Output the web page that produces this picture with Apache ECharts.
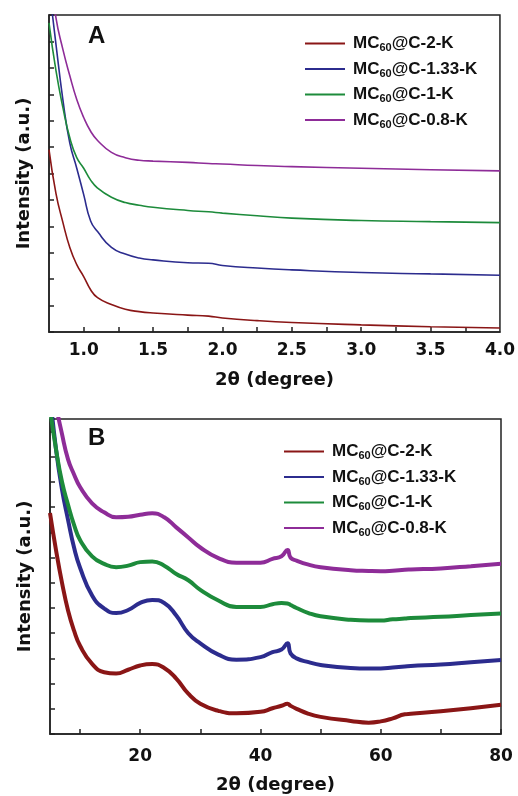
<!DOCTYPE html>
<html>
<head>
<meta charset="utf-8">
<script src="https://cdn.jsdelivr.net/npm/echarts@6/dist/echarts.min.js"></script>
<style>
  html, body { margin: 0; padding: 0; background: #fff; }
  #main { width: 518px; height: 796px; }
</style>
</head>
<body>
<div id="main"></div>
<script>
// series names and colours
var names = ['MC60@C-2-K', 'MC60@C-1.33-K', 'MC60@C-1-K', 'MC60@C-0.8-K'];
var colors = ['#8a1616', '#2c2c8e', '#1d8b3b', '#8e2c98'];

// panel A: low-angle XRD, 2theta 0.75 - 4.0
var xA = [0.75, 0.8, 0.85, 0.9, 0.95, 1.0, 1.05, 1.1, 1.2, 1.3, 1.4, 1.5, 1.75, 1.9, 2.0, 2.25, 2.5, 3.0, 3.5, 4.0];
var redA    = [6.9, 5.25, 4.15, 3.2, 2.55, 2.1, 1.6, 1.3, 1.04, 0.86, 0.77, 0.72, 0.64, 0.6, 0.53, 0.43, 0.36, 0.27, 0.2, 0.15];
var blueA   = [13.1, 10.9, 8.8, 7.15, 6.2, 5.2, 4.2, 3.8, 3.2, 2.95, 2.8, 2.73, 2.62, 2.6, 2.52, 2.42, 2.35, 2.25, 2.2, 2.15];
var greenA  = [11.7, 9.9, 8.5, 7.35, 6.6, 6.2, 5.75, 5.45, 5.1, 4.9, 4.8, 4.72, 4.6, 4.55, 4.5, 4.4, 4.31, 4.22, 4.18, 4.14];
var purpleA = [14.0, 11.9, 10.7, 9.7, 8.8, 8.12, 7.6, 7.25, 6.8, 6.6, 6.5, 6.47, 6.42, 6.38, 6.36, 6.3, 6.26, 6.2, 6.14, 6.1];
var ticksA = [1.0, 1.25, 1.5, 1.75, 2.0, 2.25, 2.5, 2.75, 3.0, 3.25, 3.5, 3.75];
var labelsA = [1.0, 1.5, 2.0, 2.5, 3.0, 3.5, 4.0];

// panel B: wide-angle XRD, 2theta 5 - 80
var xB = [5, 6, 7, 8, 9, 10, 12, 14, 16, 18, 20, 22, 24, 26, 28, 30, 33, 36, 40, 42, 43.5, 44.5, 45, 46, 48, 50, 55, 58, 60, 62, 64, 65, 70, 75, 80];
var redB    = [8.77, 7.3, 6.0, 4.9, 4.1, 3.5, 2.78, 2.45, 2.4, 2.55, 2.72, 2.78, 2.62, 2.2, 1.6, 1.2, 0.92, 0.82, 0.88, 1.02, 1.12, 1.2, 1.12, 1.0, 0.8, 0.68, 0.52, 0.45, 0.5, 0.62, 0.78, 0.8, 0.9, 1.02, 1.16];
var blueB   = [13.5, 11.3, 9.7, 8.5, 7.4, 6.6, 5.5, 4.98, 4.8, 4.92, 5.2, 5.32, 5.2, 4.7, 4.0, 3.6, 3.15, 2.95, 3.05, 3.25, 3.35, 3.6, 3.2, 3.0, 2.85, 2.74, 2.62, 2.6, 2.6, 2.64, 2.68, 2.7, 2.76, 2.85, 2.94];
var greenB  = [12.9, 11.3, 10.0, 9.1, 8.3, 7.7, 7.05, 6.75, 6.62, 6.68, 6.82, 6.85, 6.68, 6.35, 6.1, 5.72, 5.3, 5.04, 5.04, 5.15, 5.2, 5.18, 5.12, 5.0, 4.8, 4.67, 4.53, 4.5, 4.5, 4.55, 4.58, 4.6, 4.65, 4.72, 4.78];
var purpleB = [15.0, 13.1, 11.9, 10.9, 10.3, 9.8, 9.15, 8.8, 8.6, 8.62, 8.7, 8.76, 8.6, 8.2, 7.8, 7.4, 6.98, 6.8, 6.8, 6.95, 7.05, 7.3, 7.0, 6.88, 6.72, 6.62, 6.5, 6.47, 6.46, 6.48, 6.52, 6.53, 6.57, 6.66, 6.76];
var ticksB = [10, 20, 30, 40, 50, 60, 70, 80];
var labelsB = [20, 40, 60, 80];

var FONT = 'Liberation Sans, Arial, sans-serif';
var AXFONT = 'DejaVu Sans, sans-serif';

function pairs(xs, ys) {
    return xs.map(function (x, i) { return [x, ys[i]]; });
}

function legendFor(left, top) {
    return {
        orient: 'vertical',
        left: left,
        top: top,
        icon: 'rect',
        itemWidth: 40,
        itemHeight: 2,
        itemGap: 7,
        data: names,
        formatter: function (n) { return n.replace('MC60', 'MC{s|60}'); },
        textStyle: {
            fontFamily: FONT, fontSize: 17, fontWeight: 'bold', color: '#111',
            lineHeight: 17, padding: [0, 0, 0, 3],
            rich: {
                s: { fontFamily: FONT, fontSize: 11, fontWeight: 'bold', color: '#111', padding: [9, 0, 0, 0] }
            }
        }
    };
}

function xAxisFor(idx, min, max, ticks, labels, fmt, margin, gap) {
    return {
        gridIndex: idx, type: 'value', min: min, max: max,
        splitLine: { show: false },
        axisLine: { lineStyle: { color: '#222', width: 1.5 } },
        axisTick: { inside: true, length: 5, customValues: ticks, lineStyle: { color: '#222', width: 1.5 } },
        axisLabel: {
            customValues: labels, formatter: fmt, margin: margin,
            fontFamily: AXFONT, fontSize: 17, fontWeight: 'bold', color: '#111'
        },
        name: '2θ (degree)', nameLocation: 'middle', nameGap: gap,
        nameTextStyle: { fontFamily: AXFONT, fontSize: 18, fontWeight: 'bold', color: '#111' }
    };
}

function yAxisFor(idx, max) {
    return {
        gridIndex: idx, type: 'value', min: 0, max: max, interval: 1,
        splitLine: { show: false },
        axisLine: { lineStyle: { color: '#222', width: 1.5 } },
        axisTick: { inside: true, length: 5, lineStyle: { color: '#222', width: 1.5 } },
        axisLabel: { show: false },
        name: 'Intensity (a.u.)', nameLocation: 'middle', nameGap: 16,
        nameTextStyle: { fontFamily: AXFONT, fontSize: 18, fontWeight: 'bold', color: '#111' }
    };
}

var seriesA = [redA, blueA, greenA, purpleA];
var seriesB = [redB, blueB, greenB, purpleB];
var series = [];
seriesA.forEach(function (ys, i) {
    series.push({
        name: names[i], type: 'line', xAxisIndex: 0, yAxisIndex: 0,
        data: pairs(xA, ys), showSymbol: false, smooth: 0.5,
        color: colors[i], lineStyle: { width: 1.6, color: colors[i] }, animation: false
    });
});
seriesB.forEach(function (ys, i) {
    series.push({
        name: names[i], type: 'line', xAxisIndex: 1, yAxisIndex: 1,
        data: pairs(xB, ys), showSymbol: false, smooth: 0.5,
        color: colors[i], lineStyle: { width: 4, color: colors[i] }, animation: false
    });
});

var chart = echarts.init(document.getElementById('main'));
chart.setOption({
    backgroundColor: '#fff',
    animation: false,
    grid: [
        { left: 49, top: 15, width: 452, height: 317, show: true, borderColor: '#222', borderWidth: 1.5 },
        { left: 50, top: 419, width: 451, height: 315, show: true, borderColor: '#222', borderWidth: 1.5 }
    ],
    graphic: [
        { type: 'text', left: 88, top: 24, style: { text: 'A', font: 'bold 24px ' + FONT, fill: '#111' } },
        { type: 'text', left: 88, top: 426, style: { text: 'B', font: 'bold 24px ' + FONT, fill: '#111' } }
    ],
    legend: [legendFor(300, 30), legendFor(279, 438)],
    xAxis: [
        xAxisFor(0, 0.75, 4.0, ticksA, labelsA, function (v) { return v.toFixed(1); }, 10, 39),
        xAxisFor(1, 5, 80, ticksB, labelsB, function (v) { return String(v); }, 14, 42)
    ],
    yAxis: [yAxisFor(0, 12), yAxisFor(1, 12.5)],
    series: series
});
</script>
</body>
</html>
